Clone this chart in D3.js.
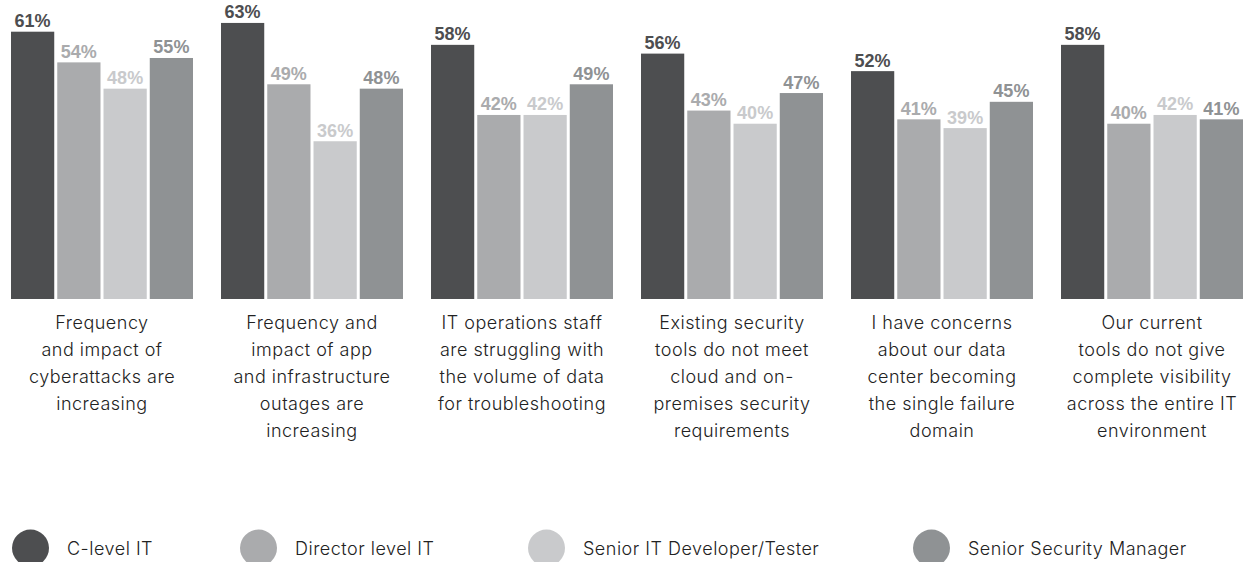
<!DOCTYPE html>
<html>
<head>
<meta charset="utf-8">
<script src="https://cdn.jsdelivr.net/npm/d3@7"></script>
<style>
  html, body { margin: 0; padding: 0; background: #ffffff; }
  svg { display: block; }
</style>
</head>
<body>
<svg id="chart" width="1249" height="562"></svg>
<script>
// Survey answers by role (percent agreeing)
const categories = [
  ["Frequency", "and impact of", "cyberattacks are", "increasing"],
  ["Frequency and", "impact of app", "and infrastructure", "outages are", "increasing"],
  ["IT operations staff", "are struggling with", "the volume of data", "for troubleshooting"],
  ["Existing security", "tools do not meet", "cloud and on-", "premises security", "requirements"],
  ["I have concerns", "about our data", "center becoming", "the single failure", "domain"],
  ["Our current", "tools do not give", "complete visibility", "across the entire IT", "environment"]
];
const seriesNames = ["C-level IT", "Director level IT", "Senior IT Developer/Tester", "Senior Security Manager"];
const cLevel    = [61, 63, 58, 56, 52, 58];
const director  = [54, 49, 42, 43, 41, 40];
const seniorDev = [48, 36, 42, 40, 39, 42];
const secManager= [55, 48, 49, 47, 45, 41];
const seriesValues = [cLevel, director, seniorDev, secManager];

const colors = ["#4d4e50", "#aaabad", "#c9cacc", "#8f9294"];

const svg = d3.select("#chart");
const baseline = 299;

// six groups, 210px apart, 182px wide
const x0 = d3.scaleBand()
  .domain(d3.range(categories.length))
  .range([11, 1243])
  .paddingInner(28 / 210)
  .paddingOuter(0);
const x1 = d3.scaleBand()
  .domain(d3.range(seriesNames.length))
  .range([0, x0.bandwidth()])
  .paddingInner(3 / 46)
  .paddingOuter(0);

const y = d3.scaleLinear().domain([0, 61]).range([baseline, 31.7]);

const labelFont = "Inter, Roboto, sans-serif";

const groups = svg.selectAll("g.group")
  .data(categories)
  .join("g")
  .attr("class", "group")
  .attr("transform", (d, i) => `translate(${x0(i)},0)`);

groups.each(function (lines, gi) {
  const g = d3.select(this);
  const vals = seriesValues.map(s => s[gi]);
  g.selectAll("rect")
    .data(vals)
    .join("rect")
    .attr("x", (d, si) => x1(si))
    .attr("y", d => y(d))
    .attr("width", x1.bandwidth())
    .attr("height", d => baseline - y(d))
    .attr("fill", (d, si) => colors[si]);

  g.selectAll("text.val")
    .data(vals)
    .join("text")
    .attr("class", "val")
    .attr("x", (d, si) => x1(si) + x1.bandwidth() / 2)
    .attr("y", d => y(d) - 4.5)
    .attr("text-anchor", "middle")
    .attr("font-family", "'Liberation Sans', Arial, sans-serif")
    .attr("font-weight", "bold")
    .attr("font-size", 18)
    .attr("fill", (d, si) => colors[si])
    .text(d => d + "%");

  g.append("text")
    .attr("text-anchor", "middle")
    .attr("font-family", labelFont)
    .attr("font-weight", 300)
    .attr("font-size", 18)
    .attr("letter-spacing", 0.5)
    .attr("fill", "#222")
    .selectAll("tspan")
    .data(lines)
    .join("tspan")
    .attr("x", x0.bandwidth() / 2)
    .attr("y", (d, li) => 329 + li * 27)
    .text(d => d);
});

// Legend
const legendX = [30.5, 258.5, 546.5, 931.5];
const legend = svg.selectAll("g.legend")
  .data(seriesNames)
  .join("g")
  .attr("class", "legend")
  .attr("transform", (d, i) => `translate(${legendX[i]},548)`);
legend.append("circle")
  .attr("r", 18.5)
  .attr("fill", (d, i) => colors[i]);
legend.append("text")
  .attr("x", 36.5)
  .attr("y", 7)
  .attr("font-family", labelFont)
  .attr("font-weight", 300)
  .attr("font-size", 18)
  .attr("letter-spacing", 0.5)
  .attr("fill", "#222")
  .text(d => d);
</script>
</body>
</html>
